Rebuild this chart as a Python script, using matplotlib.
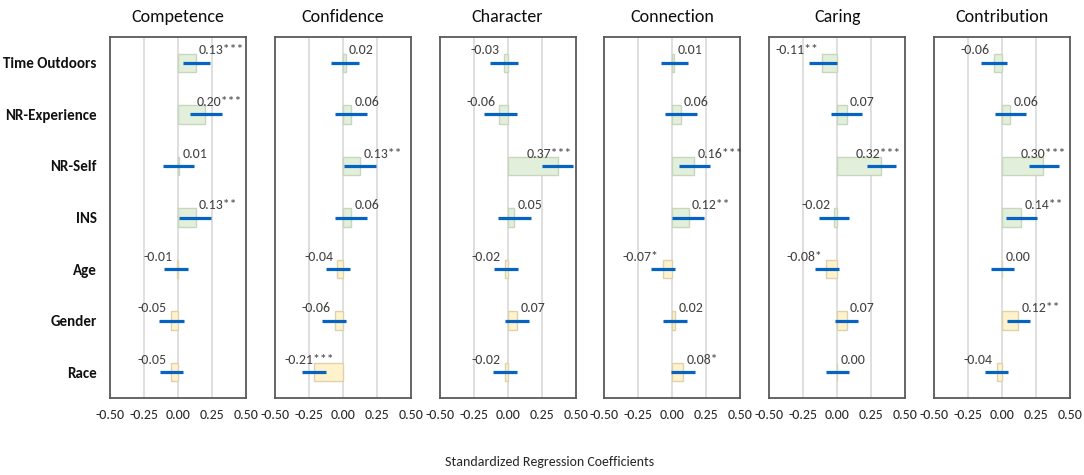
import matplotlib
matplotlib.use("Agg")
import matplotlib.pyplot as plt

plt.rcParams['font.family'] = ['Carlito', 'Lato', 'DejaVu Sans']

predictors = ["Time Outdoors", "NR-Experience", "NR-Self", "INS", "Age", "Gender", "Race"]
outcomes = ["Competence", "Confidence", "Character", "Connection", "Caring", "Contribution"]

# standardized coefficients, one list per outcome (predictor order as above)
coef_competence = [0.13, 0.20, 0.01, 0.13, -0.01, -0.05, -0.05]
coef_confidence = [0.02, 0.06, 0.13, 0.06, -0.04, -0.06, -0.21]
coef_character = [-0.03, -0.06, 0.37, 0.05, -0.02, 0.07, -0.02]
coef_connection = [0.01, 0.06, 0.16, 0.12, -0.07, 0.02, 0.08]
coef_caring = [-0.11, 0.07, 0.32, -0.02, -0.08, 0.07, 0.00]
coef_contribution = [-0.06, 0.06, 0.30, 0.14, 0.00, 0.12, -0.04]

stars_competence = ["***", "***", "", "**", "", "", ""]
stars_confidence = ["", "", "**", "", "", "", "***"]
stars_character = ["", "", "***", "", "", "", ""]
stars_connection = ["", "", "***", "**", "*", "", "*"]
stars_caring = ["**", "", "***", "", "*", "", ""]
stars_contribution = ["", "", "***", "**", "", "**", ""]

# 95% CI bounds
ci_lo_competence = [0.035, 0.087, -0.11, 0.005, -0.10, -0.14, -0.13]
ci_hi_competence = [0.233, 0.32, 0.116, 0.245, 0.077, 0.042, 0.04]
ci_lo_confidence = [-0.088, -0.056, 0.012, -0.056, -0.125, -0.152, -0.30]
ci_hi_confidence = [0.12, 0.18, 0.243, 0.18, 0.054, 0.027, -0.12]
ci_lo_character = [-0.13, -0.17, 0.25, -0.07, -0.10, -0.017, -0.108]
ci_hi_character = [0.074, 0.066, 0.48, 0.17, 0.078, 0.16, 0.071]
ci_lo_connection = [-0.086, -0.056, 0.05, 0.0, -0.157, -0.071, -0.01]
ci_hi_connection = [0.118, 0.18, 0.277, 0.235, 0.02, 0.108, 0.167]
ci_lo_caring = [-0.206, -0.047, 0.216, -0.137, -0.164, -0.017, -0.083]
ci_hi_caring = [-0.005, 0.18, 0.436, 0.09, 0.01, 0.154, 0.088]
ci_lo_contribution = [-0.155, -0.054, 0.196, 0.027, -0.082, 0.034, -0.128]
ci_hi_contribution = [0.04, 0.173, 0.418, 0.255, 0.091, 0.206, 0.042]

xticks = [-0.50, -0.25, 0.00, 0.25, 0.50]

panels = [
    (coef_competence, stars_competence, ci_lo_competence, ci_hi_competence),
    (coef_confidence, stars_confidence, ci_lo_confidence, ci_hi_confidence),
    (coef_character, stars_character, ci_lo_character, ci_hi_character),
    (coef_connection, stars_connection, ci_lo_connection, ci_hi_connection),
    (coef_caring, stars_caring, ci_lo_caring, ci_hi_caring),
    (coef_contribution, stars_contribution, ci_lo_contribution, ci_hi_contribution),
]

fill_colors = ['#E2EFDA'] * 4 + ['#FFF2CC'] * 3
edge_colors = ['#C9D6BE'] * 4 + ['#DCD2AE'] * 3

W, H = 1084, 475
fig = plt.figure(figsize=(W / 100, H / 100), dpi=100)

ypos = list(range(len(predictors)))

for i, (name, (coef, stars, lo, hi)) in enumerate(zip(outcomes, panels)):
    left = 110 + i * 164.8
    ax = fig.add_axes([left / W, 1 - 398 / H, 136 / W, 361 / H])

    for g in [-0.25, 0.0, 0.25]:
        ax.axvline(g, color='#D9D9D9', lw=1.2, zorder=0)

    ax.barh(ypos, coef, height=0.36, color=fill_colors, edgecolor=edge_colors,
            linewidth=1.0, zorder=2)
    ax.hlines(ypos, lo, hi, color='#0563C1', lw=2.3, zorder=3)

    for y, v, s in zip(ypos, coef, stars):
        txt = f"{v:.2f}{s}"
        if v > 0.19:
            x, ha = 0.47, 'right'
        elif v >= 0:
            x, ha = v + 0.025, 'left'
        elif v < -0.15:
            x, ha = -0.43, 'left'
        else:
            x, ha = v - 0.03, 'right'
        ax.text(x, y - 0.24, txt, ha=ha, va='center', fontsize=10,
                color='#404040', zorder=4)

    ax.set_xlim(-0.5, 0.5)
    ax.set_ylim(len(predictors) - 0.5, -0.5)
    ax.set_xticks(xticks)
    ax.set_xticklabels([f"{t:.2f}" for t in xticks], fontsize=10, color='#262626')
    ax.tick_params(axis='x', length=0, pad=8)
    ax.set_yticks(ypos)
    if i == 0:
        ax.set_yticklabels(predictors, fontsize=10.8, fontweight='bold', color='#111111')
        ax.tick_params(axis='y', length=0, pad=9.5)
    else:
        ax.set_yticklabels([])
        ax.tick_params(axis='y', length=0)
    for sp in ax.spines.values():
        sp.set_color('#595959')
        sp.set_linewidth(1.3)
    ax.set_title(name, fontsize=13, pad=11, color='#0d0d0d')

fig.text(550 / W, 1 - 462 / H, "Standardized Regression Coefficients",
         ha='center', va='center', fontsize=10, color='#262626')

fig.savefig("out.png", dpi=100)
